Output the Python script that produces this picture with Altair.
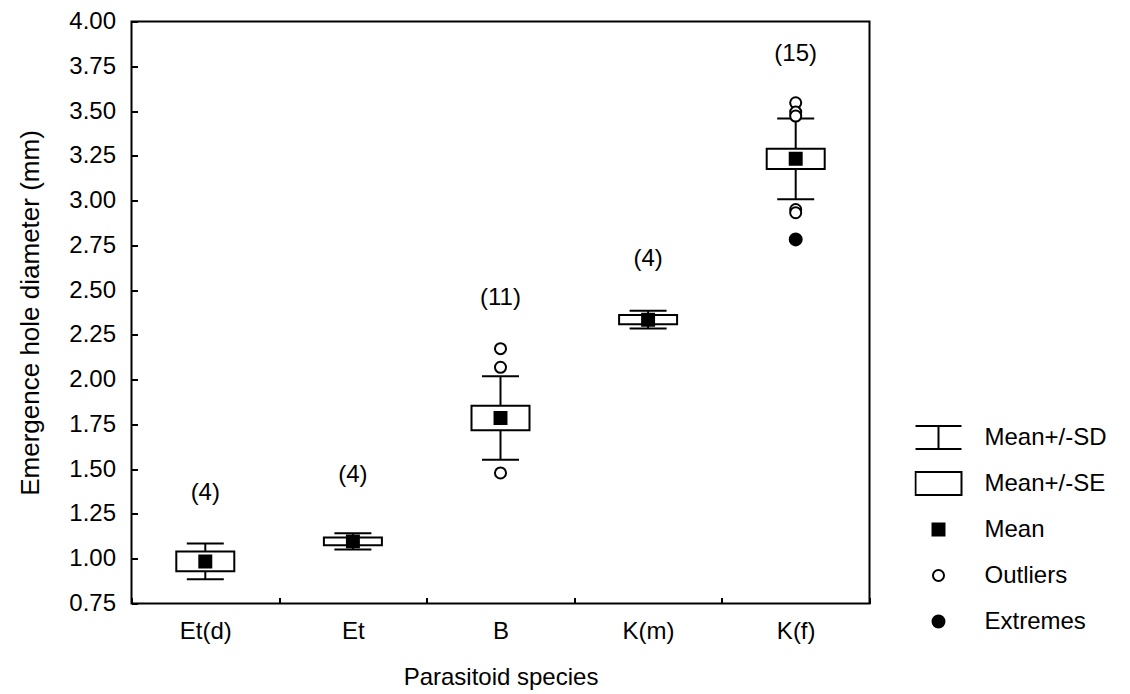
import altair as alt
import pandas as pd

# ---- data ----
species = ["Et(d)", "Et", "B", "K(m)", "K(f)"]
means = [0.985, 1.097, 1.786, 2.335, 3.233]
se = [0.055, 0.022, 0.068, 0.026, 0.057]
sd = [0.100, 0.045, 0.233, 0.050, 0.225]
n_labels = ["(4)", "(4)", "(11)", "(4)", "(15)"]
label_y = [1.365, 1.465, 2.457, 2.673, 3.82]

outlier_species = ["B", "B", "B", "K(f)", "K(f)", "K(f)", "K(f)", "K(f)"]
outlier_values = [2.173, 2.069, 1.479, 3.546, 3.494, 3.472, 2.950, 2.932]
extreme_species = ["K(f)"]
extreme_values = [2.783]

kinds = ["Mean+/-SD", "Mean+/-SE", "Mean", "Outliers", "Extremes"]
y_ticks = [0.75, 1.0, 1.25, 1.5, 1.75, 2.0, 2.25, 2.5, 2.75, 3.0, 3.25, 3.5, 3.75, 4.0]

FONT = "Liberation Sans"
FS = 24

summary = pd.DataFrame({
    "species": species,
    "mean": means,
    "se_lo": [m - s for m, s in zip(means, se)],
    "se_hi": [m + s for m, s in zip(means, se)],
    "sd_lo": [m - s for m, s in zip(means, sd)],
    "sd_hi": [m + s for m, s in zip(means, sd)],
    "n": n_labels,
    "label_y": label_y,
})

points = pd.DataFrame({
    "species": species + outlier_species + extreme_species,
    "value": means + outlier_values + extreme_values,
    "kind": ["Mean"] * len(species) + ["Outliers"] * len(outlier_species) + ["Extremes"] * len(extreme_species),
})

x_enc = alt.X(
    "species:N",
    sort=species,
    scale=alt.Scale(domain=species, paddingInner=0, paddingOuter=0),
    axis=alt.Axis(
        title="Parasitoid species",
        orient="bottom",
        offset=-6,
        tickSize=6,
        tickWidth=2,
        tickColor="black",
        tickBand="extent",
        domain=False,
        labelAngle=0,
        labelPadding=16,
        titlePadding=22,
        labelFont=FONT,
        labelFontSize=FS,
        titleFont=FONT,
        titleFontSize=FS,
    ),
)
y_scale = alt.Scale(domain=[0.75, 4.0], nice=False, zero=False)
y_axis = alt.Axis(
    title="Emergence hole diameter (mm)",
    orient="left",
    offset=-6,
    tickSize=6,
    tickWidth=2,
    tickColor="black",
    values=y_ticks,
    format=".2f",
    domain=False,
    grid=False,
    labelPadding=16,
    titlePadding=25,
    labelFont=FONT,
    labelFontSize=24,
    titleFont=FONT,
    titleFontSize=26,
)

base = alt.Chart(summary)

whisker = base.mark_rule(color="black", strokeWidth=2).encode(
    x=x_enc,
    y=alt.Y("sd_lo:Q", scale=y_scale, axis=y_axis),
    y2="sd_hi:Q",
)
cap_lo = base.mark_tick(color="black", thickness=2, size=37, opacity=1).encode(
    x=x_enc, y=alt.Y("sd_lo:Q", scale=y_scale)
)
cap_hi = base.mark_tick(color="black", thickness=2, size=37, opacity=1).encode(
    x=x_enc, y=alt.Y("sd_hi:Q", scale=y_scale)
)
box = base.mark_bar(width=58, fill="white", stroke="black", strokeWidth=2).encode(
    x=x_enc,
    y=alt.Y("se_lo:Q", scale=y_scale),
    y2="se_hi:Q",
)
counts = base.mark_text(font=FONT, fontSize=FS, color="black", baseline="middle").encode(
    x=x_enc,
    y=alt.Y("label_y:Q", scale=y_scale),
    text="n:N",
)

shape_range = [
    "M-1,-0.5H1M0,-0.5V0.5M-1,0.5H1",
    "M-1,-0.5H1V0.5H-1Z",
    "M-0.26,-0.26H0.26V0.26H-0.26Z",
    "M0.24,0A0.24,0.24 0 1,1 -0.24,0A0.24,0.24 0 1,1 0.24,0Z",
    "M0.26,0A0.26,0.26 0 1,1 -0.26,0A0.26,0.26 0 1,1 0.26,0Z",
]
fill_range = ["white", "white", "black", "white", "black"]
stroke_range = ["black", "black", "black", "black", "black"]

legend = alt.Legend(
    title=None,
    orient="none",
    legendX=783,
    legendY=393,
    symbolSize=2116,
    symbolStrokeWidth=2,
    symbolStrokeColor="black",
    clipHeight=46,
    rowPadding=0,
    labelOffset=22,
    labelFont=FONT,
    labelFontSize=FS,
    labelColor="black",
    padding=0,
    offset=0,
)

pts = alt.Chart(points).mark_point(
    filled=False, strokeWidth=2, size=2116, opacity=1
).encode(
    x=x_enc,
    y=alt.Y("value:Q", scale=y_scale),
    shape=alt.Shape("kind:N", scale=alt.Scale(domain=kinds, range=shape_range), legend=legend),
    fill=alt.Fill("kind:N", scale=alt.Scale(domain=kinds, range=fill_range), legend=legend),
    stroke=alt.Stroke("kind:N", scale=alt.Scale(domain=kinds, range=stroke_range), legend=legend),
)

chart = (
    alt.layer(whisker, cap_lo, cap_hi, box, pts, counts)
    .properties(
        width=738,
        height=582,
        background="white",
        autosize=alt.AutoSizeParams(type="none"),
        padding={"left": 123.5, "top": 13.5, "right": 252, "bottom": 90},
    )
    .configure_view(stroke="black", strokeWidth=2)
    .configure_axis(
        labelColor="black",
        titleFontWeight="normal",
        titleColor="black",
    )
)

chart.save("out.html", embed_options={"renderer": "svg", "actions": False})
